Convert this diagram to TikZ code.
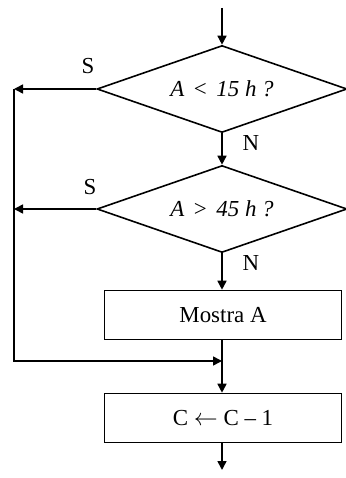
\documentclass[tikz,border=0pt]{standalone}
\usepackage{fontspec}
\setmainfont{Liberation Serif}
\usetikzlibrary{shapes.geometric,arrows.meta}

\begin{document}
\begin{tikzpicture}[x=0.5bp, y=-0.5bp, line width=0.8pt,
  font=\fontsize{11.5}{13}\selectfont,
  decision/.style={draw, diamond, aspect=2.87, minimum width=125bp, minimum height=43.5bp, inner sep=0pt},
  process/.style={draw, rectangle, minimum width=118.5bp, minimum height=24.5bp},
  flow/.style={-{Triangle[length=4.5bp,width=4.5bp]}}]
\useasboundingbox (0,0) rectangle (345,478);

% decisions
\coordinate (start) at (222,8);
\node[decision] (lt) at (222,89) {\textit{A} \,<\, \textit{15 h ?}};
\node[decision] (gt) at (222,209) {\textit{A} \,>\, \textit{45 h ?}};

% boxes
\node[process] (show) at (223,315) {Mostra A};
\node[process] (dec) at (223,418) {C $\leftarrow$ C -- 1};
\coordinate (stop) at (222,470);

% bypass on the left
\coordinate (l1) at (14,89);
\coordinate (l2) at (14,209);
\coordinate (l3) at (14,361);
\coordinate (join) at (222,361);

\draw[flow] (start) -- (lt.north);
\draw[flow] (lt.south) -- (gt.north);
\draw[flow] (gt.south) -- (show.north -| gt.south);
\draw[flow] (show.south -| join) -- (dec.north -| join);
\draw[flow] (dec.south -| stop) -- (stop);

\draw[flow] (lt.west) -- (l1);
\draw[flow] (gt.west) -- (l2);
\draw[flow] (l1) -- (l3) -- (join);

\node at (88,66) {S};
\node at (90,187) {S};
\node at (251,143) {N};
\node at (251,263) {N};
\end{tikzpicture}
\end{document}
